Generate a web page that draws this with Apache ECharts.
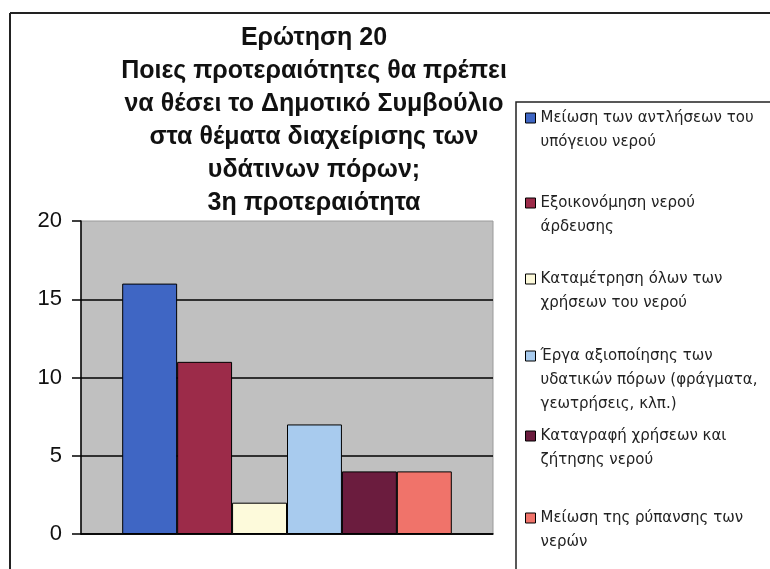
<!DOCTYPE html>
<html>
<head>
<meta charset="utf-8">
<script src="https://cdn.jsdelivr.net/npm/echarts@6/dist/echarts.min.js"></script>
<style>
  html, body { margin: 0; padding: 0; background: #fff; }
  #chart { width: 770px; height: 569px; }
</style>
</head>
<body>
<div id="chart"></div>
<script>
// data
const titleLines = [
  'Ερώτηση 20',
  'Ποιες προτεραιότητες θα πρέπει',
  'να θέσει το Δημοτικό Συμβούλιο',
  'στα θέματα διαχείρισης των',
  'υδάτινων πόρων;',
  '3η προτεραιότητα'
]
const seriesNames = [
  'Μείωση των αντλήσεων του\nυπόγειου νερού',
  'Εξοικονόμηση νερού\nάρδευσης',
  'Καταμέτρηση όλων των\nχρήσεων του νερού',
  'Έργα αξιοποίησης των\nυδατικών πόρων (φράγματα,\nγεωτρήσεις, κλπ.)',
  'Καταγραφή χρήσεων και\nζήτησης νερού',
  'Μείωση της ρύπανσης των\nνερών'
]
const seriesValues = [16, 11, 2, 7, 4, 4]
const seriesColors = ['#3f66c4', '#9c2b49', '#fdfadb', '#a8cbee', '#6b1c3e', '#f0736a']
const legendCenters = [118, 203, 279, 356, 436, 518] // y of the first line of each entry

const LEGEND_LINE = 24

const chart = echarts.init(document.getElementById('chart'))

const series = seriesNames.map((name, i) => ({
  name: name,
  type: 'bar',
  data: [seriesValues[i]],
  barGap: '0%',
  barCategoryGap: '20%',
  itemStyle: {
    color: seriesColors[i],
    borderColor: '#000',
    borderWidth: 1
  }
}))

// one legend per entry so each sits at its own height;
// blank lines in front keep the square level with the first text line
const legends = seriesNames.map((name, i) => {
  const n = name.split('\n').length
  return {
    data: [name],
    orient: 'vertical',
    left: 525,
    top: legendCenters[i] - (2 * n - 1) * LEGEND_LINE / 2,
    padding: 0,
    itemWidth: 10,
    itemHeight: 10,
    itemGap: 0,
    icon: 'rect',
    selectedMode: false,
    formatter: (s) => '\n'.repeat(n - 1) + s,
    itemStyle: { borderColor: '#000', borderWidth: 1 },
    textStyle: {
      fontFamily: 'DejaVu Sans',
      fontSize: 15,
      color: '#222',
      lineHeight: LEGEND_LINE
    }
  }
})

const option = {
  backgroundColor: '#fff',
  animation: false,
  title: {
    text: titleLines.join('\n'),
    left: 309,
    top: 17,
    textAlign: 'center',
    textStyle: {
      fontFamily: 'Liberation Sans',
      fontWeight: 'bold',
      fontSize: 25,
      lineHeight: 33,
      color: '#111'
    }
  },
  legend: legends,
  graphic: [
    // outer frame (top and left edges visible)
    { type: 'line', shape: { x1: 10, y1: 13, x2: 770, y2: 13 }, style: { stroke: '#222', lineWidth: 2 } },
    { type: 'line', shape: { x1: 10, y1: 13, x2: 10, y2: 569 }, style: { stroke: '#222', lineWidth: 2 } },
    // legend box
    { type: 'rect', shape: { x: 516, y: 102, width: 270, height: 480 }, style: { fill: 'none', stroke: '#222', lineWidth: 1.5 }, z: -1 }
  ],
  grid: {
    left: 81,
    right: 277,
    top: 221,
    bottom: 35,
    show: true,
    backgroundColor: '#c0c0c0',
    borderColor: '#9a9a9a',
    borderWidth: 1
  },
  xAxis: {
    type: 'category',
    data: [''],
    axisLine: { lineStyle: { color: '#000', width: 1.5 } },
    axisTick: { show: false },
    axisLabel: { show: false }
  },
  yAxis: {
    type: 'value',
    min: 0,
    max: 20,
    interval: 5,
    axisLine: { show: true, lineStyle: { color: '#000', width: 1.5 } },
    axisTick: { show: true, length: 9, lineStyle: { color: '#000', width: 1.5 } },
    axisLabel: {
      margin: 19,
      fontFamily: 'Liberation Sans',
      fontSize: 22,
      color: '#111'
    },
    splitLine: {
      show: true,
      showMaxLine: false,
      lineStyle: { color: '#000', width: 1.5 }
    }
  },
  series: series
}

chart.setOption(option)
</script>
</body>
</html>
